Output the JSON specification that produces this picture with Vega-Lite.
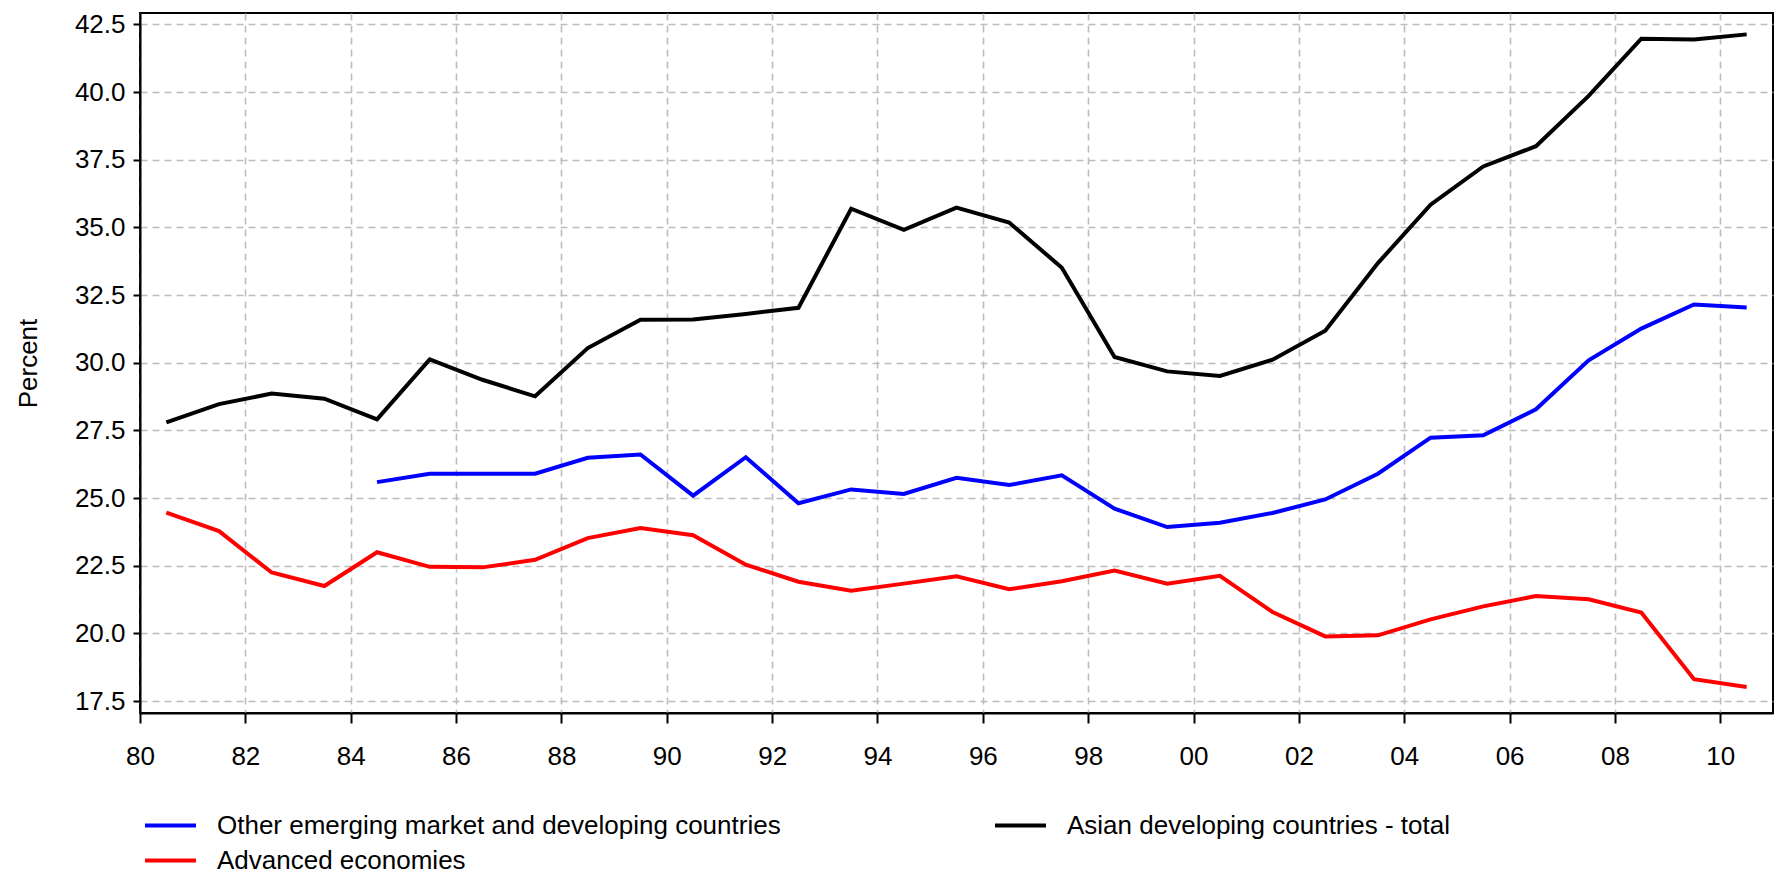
{
  "$schema": "https://vega.github.io/schema/vega-lite/v6.json",
  "autosize": {"type": "none"},
  "width": 1633,
  "height": 700,
  "padding": {"left": 140, "top": 13, "right": 2, "bottom": 162},
  "background": "white",
  "config": {
    "font": "Liberation Sans",
    "view": {"stroke": "black", "strokeWidth": 2},
    "axis": {"labelFont": "Liberation Sans", "titleFont": "Liberation Sans", "labelColor": "black", "titleColor": "black"}
  },
  "datasets": {
    "rows": [
      {"year": 1980.5, "series": "Asian developing countries - total", "value": 27.80},
      {"year": 1981.5, "series": "Asian developing countries - total", "value": 28.47},
      {"year": 1982.5, "series": "Asian developing countries - total", "value": 28.86},
      {"year": 1983.5, "series": "Asian developing countries - total", "value": 28.67},
      {"year": 1984.5, "series": "Asian developing countries - total", "value": 27.91},
      {"year": 1985.5, "series": "Asian developing countries - total", "value": 30.12},
      {"year": 1986.5, "series": "Asian developing countries - total", "value": 29.37},
      {"year": 1987.5, "series": "Asian developing countries - total", "value": 28.76},
      {"year": 1988.5, "series": "Asian developing countries - total", "value": 30.54},
      {"year": 1989.5, "series": "Asian developing countries - total", "value": 31.59},
      {"year": 1990.5, "series": "Asian developing countries - total", "value": 31.60},
      {"year": 1991.5, "series": "Asian developing countries - total", "value": 31.80},
      {"year": 1992.5, "series": "Asian developing countries - total", "value": 32.03},
      {"year": 1993.5, "series": "Asian developing countries - total", "value": 35.69},
      {"year": 1994.5, "series": "Asian developing countries - total", "value": 34.91},
      {"year": 1995.5, "series": "Asian developing countries - total", "value": 35.73},
      {"year": 1996.5, "series": "Asian developing countries - total", "value": 35.18},
      {"year": 1997.5, "series": "Asian developing countries - total", "value": 33.51},
      {"year": 1998.5, "series": "Asian developing countries - total", "value": 30.21},
      {"year": 1999.5, "series": "Asian developing countries - total", "value": 29.68},
      {"year": 2000.5, "series": "Asian developing countries - total", "value": 29.51},
      {"year": 2001.5, "series": "Asian developing countries - total", "value": 30.11},
      {"year": 2002.5, "series": "Asian developing countries - total", "value": 31.18},
      {"year": 2003.5, "series": "Asian developing countries - total", "value": 33.68},
      {"year": 2004.5, "series": "Asian developing countries - total", "value": 35.84},
      {"year": 2005.5, "series": "Asian developing countries - total", "value": 37.25},
      {"year": 2006.5, "series": "Asian developing countries - total", "value": 38.00},
      {"year": 2007.5, "series": "Asian developing countries - total", "value": 39.86},
      {"year": 2008.5, "series": "Asian developing countries - total", "value": 41.97},
      {"year": 2009.5, "series": "Asian developing countries - total", "value": 41.94},
      {"year": 2010.5, "series": "Asian developing countries - total", "value": 42.13},
      {"year": 1984.5, "series": "Other emerging market and developing countries", "value": 25.59},
      {"year": 1985.5, "series": "Other emerging market and developing countries", "value": 25.90},
      {"year": 1986.5, "series": "Other emerging market and developing countries", "value": 25.90},
      {"year": 1987.5, "series": "Other emerging market and developing countries", "value": 25.90},
      {"year": 1988.5, "series": "Other emerging market and developing countries", "value": 26.49},
      {"year": 1989.5, "series": "Other emerging market and developing countries", "value": 26.61},
      {"year": 1990.5, "series": "Other emerging market and developing countries", "value": 25.09},
      {"year": 1991.5, "series": "Other emerging market and developing countries", "value": 26.51},
      {"year": 1992.5, "series": "Other emerging market and developing countries", "value": 24.81},
      {"year": 1993.5, "series": "Other emerging market and developing countries", "value": 25.32},
      {"year": 1994.5, "series": "Other emerging market and developing countries", "value": 25.15},
      {"year": 1995.5, "series": "Other emerging market and developing countries", "value": 25.75},
      {"year": 1996.5, "series": "Other emerging market and developing countries", "value": 25.48},
      {"year": 1997.5, "series": "Other emerging market and developing countries", "value": 25.84},
      {"year": 1998.5, "series": "Other emerging market and developing countries", "value": 24.61},
      {"year": 1999.5, "series": "Other emerging market and developing countries", "value": 23.93},
      {"year": 2000.5, "series": "Other emerging market and developing countries", "value": 24.09},
      {"year": 2001.5, "series": "Other emerging market and developing countries", "value": 24.45},
      {"year": 2002.5, "series": "Other emerging market and developing countries", "value": 24.95},
      {"year": 2003.5, "series": "Other emerging market and developing countries", "value": 25.90},
      {"year": 2004.5, "series": "Other emerging market and developing countries", "value": 27.23},
      {"year": 2005.5, "series": "Other emerging market and developing countries", "value": 27.32},
      {"year": 2006.5, "series": "Other emerging market and developing countries", "value": 28.28},
      {"year": 2007.5, "series": "Other emerging market and developing countries", "value": 30.09},
      {"year": 2008.5, "series": "Other emerging market and developing countries", "value": 31.26},
      {"year": 2009.5, "series": "Other emerging market and developing countries", "value": 32.15},
      {"year": 2010.5, "series": "Other emerging market and developing countries", "value": 32.04},
      {"year": 1980.5, "series": "Advanced economies", "value": 24.46},
      {"year": 1981.5, "series": "Advanced economies", "value": 23.78},
      {"year": 1982.5, "series": "Advanced economies", "value": 22.25},
      {"year": 1983.5, "series": "Advanced economies", "value": 21.75},
      {"year": 1984.5, "series": "Advanced economies", "value": 23.00},
      {"year": 1985.5, "series": "Advanced economies", "value": 22.46},
      {"year": 1986.5, "series": "Advanced economies", "value": 22.44},
      {"year": 1987.5, "series": "Advanced economies", "value": 22.72},
      {"year": 1988.5, "series": "Advanced economies", "value": 23.52},
      {"year": 1989.5, "series": "Advanced economies", "value": 23.89},
      {"year": 1990.5, "series": "Advanced economies", "value": 23.63},
      {"year": 1991.5, "series": "Advanced economies", "value": 22.54},
      {"year": 1992.5, "series": "Advanced economies", "value": 21.91},
      {"year": 1993.5, "series": "Advanced economies", "value": 21.58},
      {"year": 1994.5, "series": "Advanced economies", "value": 21.84},
      {"year": 1995.5, "series": "Advanced economies", "value": 22.11},
      {"year": 1996.5, "series": "Advanced economies", "value": 21.63},
      {"year": 1997.5, "series": "Advanced economies", "value": 21.93},
      {"year": 1998.5, "series": "Advanced economies", "value": 22.32},
      {"year": 1999.5, "series": "Advanced economies", "value": 21.84},
      {"year": 2000.5, "series": "Advanced economies", "value": 22.13},
      {"year": 2001.5, "series": "Advanced economies", "value": 20.79},
      {"year": 2002.5, "series": "Advanced economies", "value": 19.89},
      {"year": 2003.5, "series": "Advanced economies", "value": 19.93},
      {"year": 2004.5, "series": "Advanced economies", "value": 20.52},
      {"year": 2005.5, "series": "Advanced economies", "value": 21.00},
      {"year": 2006.5, "series": "Advanced economies", "value": 21.38},
      {"year": 2007.5, "series": "Advanced economies", "value": 21.26},
      {"year": 2008.5, "series": "Advanced economies", "value": 20.77},
      {"year": 2009.5, "series": "Advanced economies", "value": 18.31},
      {"year": 2010.5, "series": "Advanced economies", "value": 18.02}
    ]
  },
  "data": {"name": "rows"},
  "mark": {"type": "line", "strokeWidth": 4, "strokeJoin": "miter", "clip": true},
  "encoding": {
    "x": {
      "field": "year",
      "type": "quantitative",
      "scale": {"domain": [1980, 2011], "nice": false, "zero": false},
      "axis": {
        "title": null,
        "values": [1980, 1982, 1984, 1986, 1988, 1990, 1992, 1994, 1996, 1998, 2000, 2002, 2004, 2006, 2008, 2010],
        "labelExpr": "slice(toString(datum.value), 2)",
        "labelFontSize": 26,
        "labelPadding": 20,
        "labelFlush": false,
        "labelOverlap": false,
        "tickSize": 10,
        "tickWidth": 2,
        "tickColor": "black",
        "domainColor": "black",
        "domainWidth": 2,
        "grid": true,
        "gridColor": "#bdbdbd",
        "gridDash": [7, 5],
        "gridWidth": 1.6
      }
    },
    "y": {
      "field": "value",
      "type": "quantitative",
      "scale": {"domain": [17.06, 42.92], "nice": false, "zero": false},
      "axis": {
        "title": "Percent",
        "titleFontSize": 26,
        "titleFontWeight": "normal",
        "titleX": -112,
        "titleBaseline": "middle",
        "values": [17.5, 20, 22.5, 25, 27.5, 30, 32.5, 35, 37.5, 40, 42.5],
        "format": ".1f",
        "labelFontSize": 26,
        "labelPadding": 8,
        "labelFlush": false,
        "labelOverlap": false,
        "tickSize": 7,
        "tickWidth": 2,
        "tickColor": "black",
        "domainColor": "black",
        "domainWidth": 2,
        "grid": true,
        "gridColor": "#bdbdbd",
        "gridDash": [7, 5],
        "gridWidth": 1.6
      }
    },
    "color": {
      "field": "series",
      "type": "nominal",
      "scale": {
        "domain": ["Other emerging market and developing countries", "Advanced economies", "Asian developing countries - total"],
        "range": ["#0000ff", "#ff0000", "#000000"]
      },
      "legend": {
        "title": null,
        "orient": "none",
        "legendX": 3,
        "legendY": 795,
        "columns": 2,
        "columnPadding": 212,
        "rowPadding": 0,
        "clipHeight": 35,
        "padding": 0,
        "symbolType": "stroke",
        "symbolSize": 2601,
        "symbolStrokeWidth": 4,
        "labelFontSize": 26,
        "labelOffset": 19,
        "labelColor": "black",
        "labelLimit": 1000
      }
    }
  }
}
